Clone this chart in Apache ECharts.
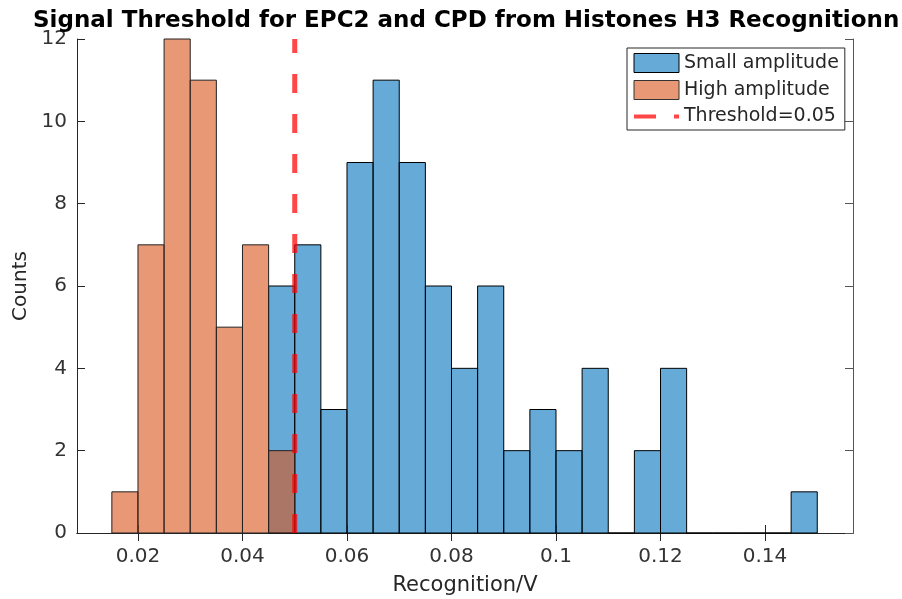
<!DOCTYPE html>
<html>
<head>
<meta charset="utf-8">
<script src="https://cdn.jsdelivr.net/npm/echarts@6/dist/echarts.min.js"></script>
<style>
html, body { margin: 0; padding: 0; background: #fff; }
#main { width: 902px; height: 599px; }
</style>
</head>
<body>
<div id="main"></div>
<script>
// histogram bins: edges + counts
var smallEdges = [0.045, 0.05, 0.055, 0.06, 0.065, 0.07, 0.075, 0.08, 0.085, 0.09, 0.095,
                  0.1, 0.105, 0.11, 0.115, 0.12, 0.125, 0.13, 0.135, 0.14, 0.145, 0.15];
var smallCounts = [6, 7, 3, 9, 11, 9, 6, 4, 6, 2, 3, 2, 4, 0, 2, 4, 0, 0, 0, 0, 1];
var highEdges = [0.015, 0.02, 0.025, 0.03, 0.035, 0.04, 0.045, 0.05];
var highCounts = [1, 7, 12, 11, 5, 7, 2];
var threshold = 0.05;
var xTicks = [0.02, 0.04, 0.06, 0.08, 0.1, 0.12, 0.14];
var xRange = [0.00833, 0.15684];
var yRange = [0, 12];

var blueFill = 'rgba(0,114,189,0.6)';
var orangeFill = 'rgba(217,83,25,0.6)';
var redLine = 'rgba(255,0,0,0.72)';
var font = 'DejaVu Sans';
var axisColor = '#262626';
var titleText = 'Signal Threshold for EPC2 and CPD from Histones H3 Recognitionn';
var titleFont = 'bold 23px "DejaVu Sans"';

function toBins(edges, counts) {
    var out = [];
    for (var i = 0; i < counts.length; i++) {
        out.push([edges[i], edges[i + 1], counts[i]]);
    }
    return out;
}

function histRender(fill, stroke) {
    return function (params, api) {
        var p0 = api.coord([api.value(0), api.value(2)]);
        var p1 = api.coord([api.value(1), 0]);
        return {
            type: 'rect',
            shape: { x: p0[0], y: p0[1], width: p1[0] - p0[0], height: p1[1] - p0[1] },
            style: { fill: fill, stroke: stroke, lineWidth: 1 }
        };
    };
}

// title sits centred over the axes box, not the page
var ctx = document.createElement('canvas').getContext('2d');
ctx.font = titleFont;
var titleLeft = Math.round(466 - ctx.measureText(titleText).width / 2);

var myChart = echarts.init(document.getElementById('main'));
var option = {
    animation: false,
    backgroundColor: '#fff',
    title: {
        text: titleText,
        left: titleLeft,
        top: 0,
        padding: [10, 0, 0, 0],
        textStyle: { fontFamily: font, fontWeight: 'bold', fontSize: 23, color: '#000' }
    },
    grid: { left: 77, right: 49, top: 39, bottom: 66, outerBoundsMode: 'none' },
    legend: {
        orient: 'vertical',
        left: 627,
        top: 48,
        padding: [5, 6, 4, 5],
        itemGap: 7,
        itemWidth: 45,
        itemHeight: 19,
        borderColor: axisColor,
        borderWidth: 1,
        backgroundColor: '#fff',
        textStyle: { fontFamily: font, fontSize: 19, color: axisColor },
        data: [
            { name: 'Small amplitude', icon: 'rect', itemStyle: { color: blueFill, borderColor: '#000', borderWidth: 1 } },
            { name: 'High amplitude', icon: 'rect', itemStyle: { color: orangeFill, borderColor: '#333', borderWidth: 1 } },
            {
                name: 'Threshold=0.05',
                itemStyle: { opacity: 0 },
                lineStyle: { width: 4, type: [22, 18], color: redLine }
            }
        ]
    },
    xAxis: [{
        type: 'value',
        min: xRange[0],
        max: xRange[1],
        name: 'Recognition/V',
        nameLocation: 'middle',
        nameGap: 42,
        nameTextStyle: { fontFamily: font, fontSize: 21, color: axisColor },
        axisLine: { lineStyle: { color: axisColor } },
        axisTick: { inside: true, length: 8, customValues: xTicks, lineStyle: { color: axisColor } },
        axisLabel: { customValues: xTicks, margin: 14, fontFamily: font, fontSize: 20, color: '#333' },
        splitLine: { show: false }
    }, {
        type: 'value',
        position: 'top',
        min: xRange[0],
        max: xRange[1],
        axisLine: { show: true, lineStyle: { color: axisColor } },
        axisTick: { inside: true, length: 8, customValues: xTicks, lineStyle: { color: axisColor } },
        axisLabel: { show: false },
        splitLine: { show: false }
    }],
    yAxis: [{
        type: 'value',
        min: yRange[0],
        max: yRange[1],
        interval: 2,
        name: 'Counts',
        nameLocation: 'middle',
        nameGap: 44,
        nameTextStyle: { fontFamily: font, fontSize: 20, color: axisColor },
        axisLine: { show: true, lineStyle: { color: axisColor } },
        axisTick: { show: true, inside: true, length: 8, lineStyle: { color: axisColor } },
        axisLabel: { margin: 10, fontFamily: font, fontSize: 20, color: '#333' },
        splitLine: { show: false }
    }, {
        type: 'value',
        position: 'right',
        min: yRange[0],
        max: yRange[1],
        interval: 2,
        axisLine: { show: true, lineStyle: { color: '#555' } },
        axisTick: { show: true, inside: true, length: 8, lineStyle: { color: '#555' } },
        axisLabel: { show: false },
        splitLine: { show: false }
    }],
    series: [{
        name: 'Small amplitude',
        type: 'custom',
        renderItem: histRender(blueFill, '#000'),
        itemStyle: { color: blueFill },
        encode: { x: [0, 1], y: 2 },
        data: toBins(smallEdges, smallCounts)
    }, {
        name: 'High amplitude',
        type: 'custom',
        renderItem: histRender(orangeFill, '#222'),
        itemStyle: { color: orangeFill },
        encode: { x: [0, 1], y: 2 },
        data: toBins(highEdges, highCounts)
    }, {
        name: 'Threshold=0.05',
        type: 'line',
        symbol: 'none',
        color: redLine,
        lineStyle: { width: 5, type: [19, 21], color: redLine },
        data: [[threshold, yRange[0]], [threshold, yRange[1]]],
        z: 5
    }]
};

myChart.setOption(option);
</script>
</body>
</html>
